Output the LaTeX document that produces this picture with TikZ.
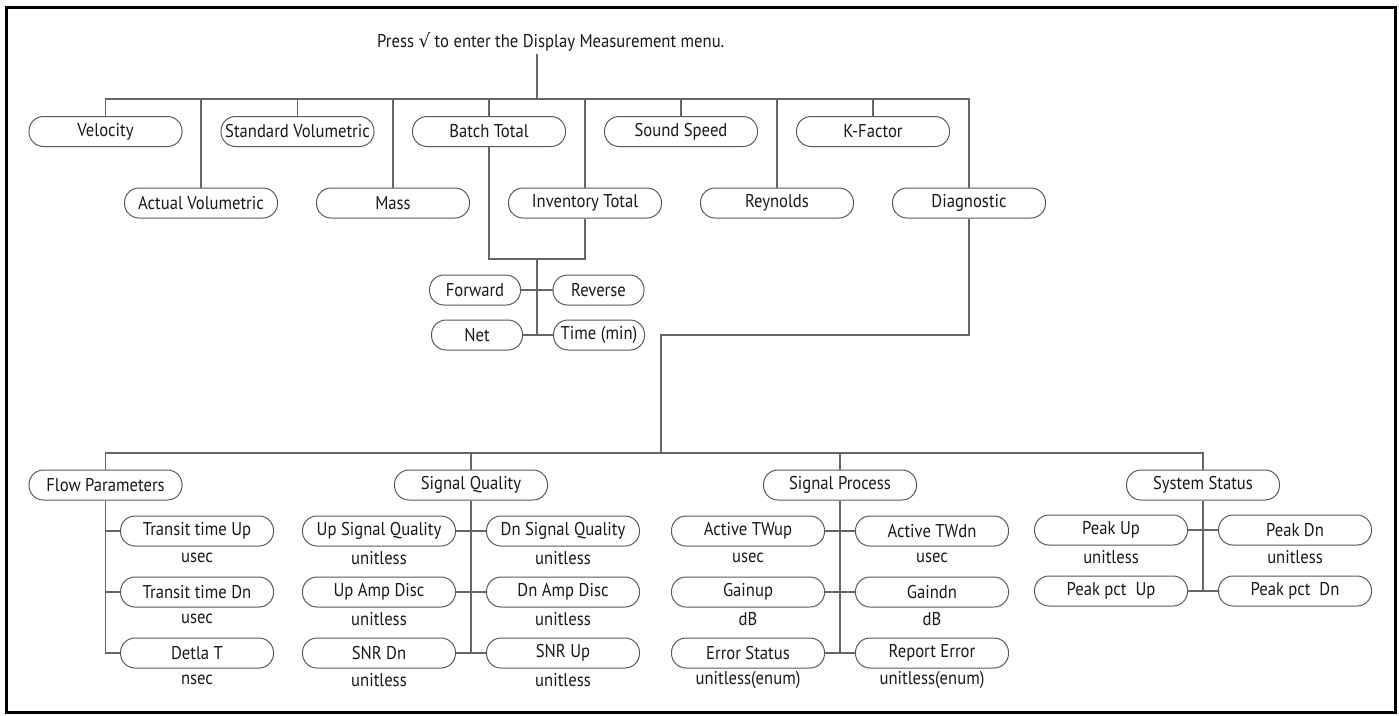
\documentclass[tikz,border=0pt]{standalone}
\usepackage{fontspec}
\setmainfont{PT Sans}[FakeStretch=0.9]
\newfontfamily\symfont{DejaVu Sans}
\begin{document}
\begin{tikzpicture}[x=1pt,y=-1pt,
  pill/.style={draw=black!65, line width=1pt, rounded corners=14.5pt, minimum width=153pt, minimum height=30pt, inner sep=0pt, font=\fontsize{18.5}{21}\selectfont, text=black!90},
  spill/.style={pill, minimum width=91pt},
  unit/.style={inner sep=0pt, font=\fontsize{18.5}{21}\selectfont, text=black!90},
  wire/.style={draw=black!60, line width=1.2pt}]
\useasboundingbox (0,0) rectangle (1399,715);
\draw[line width=3pt] (6.5,7.5) rectangle (1395,712);

% title
\node[unit, anchor=west] (title) at (377,42) {Press {\symfont √} to enter the Display Measurement menu.};
\coordinate (t0) at (537,54);
\coordinate (b1) at (537,99);

% row 1
\node[pill] (vel) at (105.5,131.5) {Velocity};
\node[pill] (sv)  at (297.5,131.5) {Standard Volumetric};
\node[pill] (bt)  at (489,131.5) {Batch Total};
\node[pill] (ss)  at (681,131.5) {Sound Speed};
\node[pill] (kf)  at (873,131.5) {K-Factor};
% row 2
\node[pill] (av)   at (201,203) {Actual Volumetric};
\node[pill] (mass) at (393,203) {Mass};
\node[pill] (it)   at (585,203) {Inventory Total};
\node[pill] (rey)  at (777,203) {Reynolds};
\node[pill] (dia)  at (969,203) {Diagnostic};

\draw[wire] (t0) -- (b1);
\foreach \n in {vel,sv,bt,ss,kf,av,mass,it,rey,dia} \draw[wire] (\n.north) |- (b1);

% totals
\coordinate (j1) at (537,259);
\coordinate (j2) at (537,335);
\node[spill] (fw)  at (475,290) {Forward};
\node[spill] (rv)  at (598.5,290) {Reverse};
\node[spill] (net) at (477,335) {Net};
\node[spill] (tm)  at (599,335) {Time (min)};
\draw[wire] (bt.south) |- (j1);
\draw[wire] (it.south) |- (j1);
\draw[wire] (j1) -- (j2);
\draw[wire] (fw) -- (rv);
\draw[wire] (net) -- (tm);

% diagnostic route
\coordinate (d1) at (661,335);
\coordinate (b2) at (661,453);
\draw[wire] (dia.south) |- (d1) -- (b2);

% level 2
\node[pill] (fp)  at (105.5,485) {Flow Parameters};
\node[pill] (sq)  at (471,485) {Signal Quality};
\node[pill] (sp)  at (840,485) {Signal Process};
\node[pill] (sst) at (1203,485) {System Status};
\foreach \n in {fp,sq,sp,sst} \draw[wire] (\n.north) |- (b2);

% flow parameters
\node[pill] (tu) at (197,531) {Transit time Up};
\node[pill] (td) at (197,592) {Transit time Dn};
\node[pill] (dt) at (197,653) {Detla T};
\node[unit] (tuU) at (197,558) {usec};
\node[unit] (tdU) at (197,619) {usec};
\node[unit] (dtU) at (197,680) {nsec};
\draw[wire] (fp.south) |- (dt.west);
\draw[wire] (fp.south |- tu.west) -- (tu.west);
\draw[wire] (fp.south |- td.west) -- (td.west);

% signal quality
\node[pill] (usq) at (379,531) {Up Signal Quality};
\node[pill] (dsq) at (563,531) {Dn Signal Quality};
\node[pill] (uad) at (379,592) {Up Amp Disc};
\node[pill] (dad) at (563,592) {Dn Amp Disc};
\node[pill] (snd) at (379,653) {SNR Dn};
\node[pill] (snu) at (563,653) {SNR Up};
\node[unit] (usqU) at (379,558) {unitless};
\node[unit] (dsqU) at (563,558) {unitless};
\node[unit] (uadU) at (379,619) {unitless};
\node[unit] (dadU) at (563,619) {unitless};
\node[unit] (sndU) at (379,680) {unitless};
\node[unit] (snuU) at (563,680) {unitless};
\draw[wire] (sq.south) -- (sq.south |- snd.east);
\draw[wire] (usq) -- (dsq);
\draw[wire] (uad) -- (dad);
\draw[wire] (snd) -- (snu);

% signal process
\node[pill] (atu) at (748,531) {Active TWup};
\node[pill] (atd) at (932,531) {Active TWdn};
\node[pill] (gu)  at (748,592) {Gainup};
\node[pill] (gd)  at (932,592) {Gaindn};
\node[pill] (es)  at (748,653) {Error Status};
\node[pill] (re)  at (932,653) {Report Error};
\node[unit] (atuU) at (748,558) {usec};
\node[unit] (atdU) at (932,558) {usec};
\node[unit] (guU)  at (748,619) {dB};
\node[unit] (gdU)  at (932,619) {dB};
\node[unit] (esU)  at (748,680) {unitless(enum)};
\node[unit] (reU)  at (932,680) {unitless(enum)};
\draw[wire] (sp.south) -- (sp.south |- es.east);
\draw[wire] (atu) -- (atd);
\draw[wire] (gu) -- (gd);
\draw[wire] (es) -- (re);

% system status
\node[pill] (pu)  at (1111,530) {Peak Up};
\node[pill] (pd)  at (1295,530) {Peak Dn};
\node[pill] (ppu) at (1111,591) {Peak pct\ \ Up};
\node[pill] (ppd) at (1295,591) {Peak pct\ \ Dn};
\node[unit] (puU) at (1111,557) {unitless};
\node[unit] (pdU) at (1295,557) {unitless};
\draw[wire] (sst.south) -- (sst.south |- ppu.east);
\draw[wire] (pu) -- (pd);
\draw[wire] (ppu) -- (ppd);
\end{tikzpicture}
\end{document}
